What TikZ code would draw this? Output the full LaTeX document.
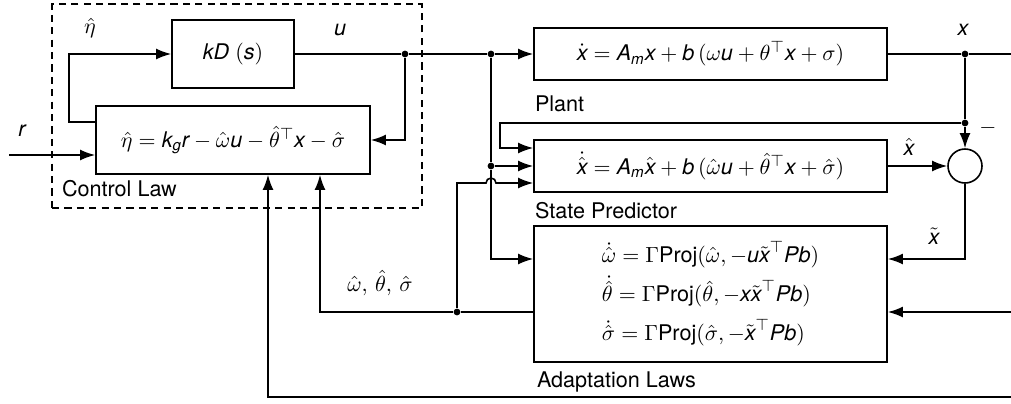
\documentclass[tikz,border=0pt]{standalone}
\usepackage{amsmath,amssymb}
\usepackage{fontspec}
\setmainfont{TeX Gyre Heros}
\usepackage{tikz}
\usetikzlibrary{arrows.meta,positioning,calc}
\newcommand{\mv}[1]{\textit{#1}}

\begin{document}
\begin{tikzpicture}[x=0.5pt, y=-0.5pt, line width=0.8pt,
  block/.style={rectangle, draw, inner sep=0pt, align=center,
    font=\fontsize{10.8}{13}\selectfont},
  arrow/.style={-{Latex[length=7.5pt,width=5.4pt]}},
  junction/.style={circle, fill, inner sep=0pt, minimum size=3.4pt},
  lbl/.style={inner sep=0pt, font=\fontsize{10.8}{13}\selectfont},
]
\useasboundingbox (0,0) rectangle (1011,403);
% control law part
\node[draw, dashed, dash pattern=on 3.6pt off 2.6pt, inner sep=0pt,
  minimum width=185pt, minimum height=102pt] (clbox) at (237,106) {};
\node[block, minimum width=61pt, minimum height=34pt] (kd) at (233,54)
  {$\mv{kD}\ (\mv{s})$};
\node[block, minimum width=137pt, minimum height=34pt] (ctrl) at (233,140)
  {$\hat{\eta} = \mv{k}_{\mv{g}}\mv{r} - \hat{\omega}\mv{u} - \hat{\theta}^{\top}\mv{x} - \hat{\sigma}$};
\node[lbl, above right=5.5pt and 5pt of clbox.south west] (cllbl) {Control Law};
% plant, predictor, adaptation
\node[block, minimum width=176.5pt, minimum height=26pt] (plant) at (710.5,54)
  {$\dot{\mv{x}} = \mv{A}_{\mv{m}}\mv{x} + \mv{b}\,(\omega\mv{u} + \theta^{\top}\mv{x} + \sigma)$};
\node[block, minimum width=176.5pt, minimum height=26pt] (pred) at (710.5,166)
  {$\dot{\hat{\mv{x}}} = \mv{A}_{\mv{m}}\hat{\mv{x}} + \mv{b}\,(\hat{\omega}\mv{u} + \hat{\theta}^{\top}\mv{x} + \hat{\sigma})$};
\node[block, minimum width=176.5pt, minimum height=68pt, align=left,
  font=\fontsize{10.8}{19.5}\selectfont] (adapt) at (710.5,294)
  {$\dot{\hat{\omega}} = \Gamma\text{Proj}(\hat{\omega}, -\mv{u}\tilde{\mv{x}}^{\top}\mv{Pb})$\\
   $\dot{\hat{\theta}} = \Gamma\text{Proj}(\hat{\theta}, -\mv{x}\tilde{\mv{x}}^{\top}\mv{Pb})$\\
   $\dot{\hat{\sigma}} = \Gamma\text{Proj}(\hat{\sigma}, -\tilde{\mv{x}}^{\top}\mv{Pb})$};
\node[lbl, below right=7pt and 0.5pt of plant.south west] (plantlbl) {Plant};
\node[lbl, below right=4.5pt and 0.5pt of pred.south west] (predlbl) {State Predictor};
\node[lbl, below right=4pt and 1.5pt of adapt.south west] (adaptlbl) {Adaptation Laws};
\node[circle, draw, minimum size=17pt, inner sep=0pt] (sum) at (965,166) {};
% junctions and free ends
\node[junction] (ju) at (405,54) {};
\node[junction] (jp) at (491,54) {};
\node[junction] (js) at (491,166) {};
\node[junction] (jx) at (965,54) {};
\node[junction] (jf) at (965,123) {};
\node[junction] (ja) at (457,312) {};
\coordinate (rin) at (9,155);
\coordinate (xout) at (1011,54);
\coordinate (xin) at (1011,312);
\coordinate (xbot) at (1011,397);
% signals
\draw[arrow] (rin) -- (rin -| ctrl.west);
\draw[arrow] ([yshift=9pt]ctrl.west) -- ++(-13pt,0) |- (kd.west);
\draw (kd.east) -- (ju) -- (jp);
\draw[arrow] (jp) -- (plant.west);
\draw[arrow] (ju) |- (ctrl.east);
\draw (jp) -- (js);
\draw[arrow] (js) -- (js -| pred.west);
\draw[arrow] (js) |- ([yshift=17.5pt]adapt.west);
\draw (plant.east) -- (jx) -- (xout);
\draw (jx) -- (jf);
\draw[arrow] (jf) -- (sum.north);
\draw[arrow] (jf) -- (500,123) |- ([yshift=9pt]pred.west);
\draw[arrow] (pred.east) -- (sum.west);
\draw[arrow] (sum.south) |- ([yshift=17.5pt]adapt.east);
\draw[arrow] (xin) -- (xin -| adapt.east);
\draw[arrow] ([yshift=-9pt]adapt.west) -- (ja) -| ([xshift=43.5pt]ctrl.south);
\draw[arrow] (ja) |- (486,183) arc[start angle=180, end angle=0, radius=2.5pt]
  -- ([yshift=-8.5pt]pred.west);
\draw[arrow] (xbot) -| ([xshift=17.5pt]ctrl.south);
% labels
\node[lbl] (etalbl) at (90,28) {$\hat{\eta}$};
\node[lbl] (ulbl) at (340,30) {$\mv{u}$};
\node[lbl] (rlbl) at (22,131) {$\mv{r}$};
\node[lbl] (xlbl) at (963,30) {$\mv{x}$};
\node[lbl] (minus) at (988,128) {$-$};
\node[lbl] (xhatlbl) at (909,147) {$\hat{\mv{x}}$};
\node[lbl] (xtillbl) at (934,236) {$\tilde{\mv{x}}$};
\node[lbl] (estlbl) at (380,283) {$\hat{\omega},\,\hat{\theta},\,\hat{\sigma}$};
\end{tikzpicture}
\end{document}
